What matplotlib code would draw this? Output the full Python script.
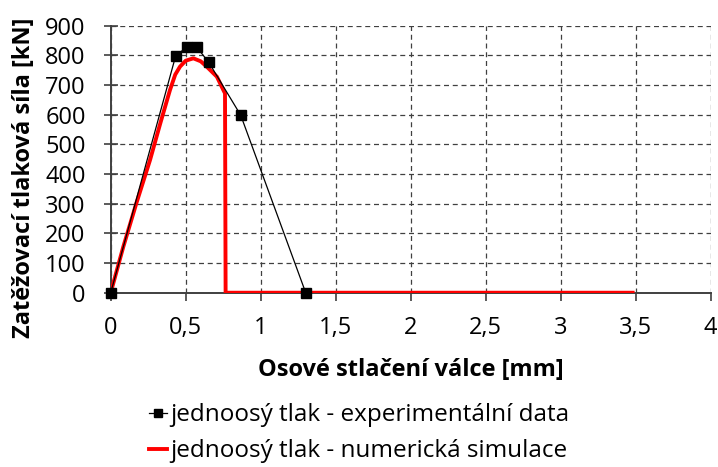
import matplotlib
matplotlib.use("Agg")
import matplotlib.pyplot as plt

plt.rcParams['font.family'] = ['Open Sans', 'DejaVu Sans']

# experimental points (jednoosý tlak - experimentální data)
exp_x = [0.0, 0.433, 0.507, 0.573, 0.653, 0.867, 1.30]
exp_y = [0, 798, 828, 828, 777, 598, 0]

# numerical simulation trace
sim_x = [0.0, 0.084, 0.17, 0.262, 0.33, 0.395, 0.43, 0.462, 0.50, 0.551,
         0.60, 0.64, 0.708, 0.751, 0.762, 0.766, 1.5, 2.5, 3.48]
sim_y = [0, 155, 300, 447, 570, 683, 735, 762, 782, 790,
         780, 762, 728, 683, 672, 0, 0, 0, 0]

x_ticks = [0, 0.5, 1, 1.5, 2, 2.5, 3, 3.5, 4]
x_tick_labels = ["0", "0,5", "1", "1,5", "2", "2,5", "3", "3,5", "4"]
y_ticks = [0, 100, 200, 300, 400, 500, 600, 700, 800, 900]

fig = plt.figure(figsize=(7.18, 4.67), dpi=100)
ax = fig.add_axes([0.1542, 0.3732, 0.8356, 0.5718])

ax.plot(sim_x, sim_y, color="#ff0000", lw=2.8, label="jednoosý tlak - numerická simulace", zorder=3)
ax.plot(exp_x, exp_y, color="black", lw=0.9, marker="s", ms=7.5,
        label="jednoosý tlak - experimentální data", zorder=4, clip_on=False)

ax.set_xlim(0, 4)
ax.set_ylim(0, 900)
ax.set_xticks(x_ticks)
ax.set_xticklabels(x_tick_labels)
ax.set_yticks(y_ticks)

ax.grid(True, ls=(0, (4, 3)), color="#404040", lw=0.9)
ax.set_axisbelow(True)
for s in ["top", "right"]:
    ax.spines[s].set_visible(False)
for s in ["left", "bottom"]:
    ax.spines[s].set_color("#404040")
    ax.spines[s].set_linewidth(1.4)

ax.tick_params(axis="x", direction="out", length=6, width=1.2, color="#404040",
               labelsize=17, pad=11)
ax.tick_params(axis="y", direction="inout", length=10, width=1.2, color="#404040",
               labelsize=17, pad=13)

ax.set_xlabel("Osové stlačení válce [mm]", fontsize=17, fontweight="bold", labelpad=13)
ax.set_ylabel("Zatěžovací tlaková síla [kN]", fontsize=17, fontweight="bold")
ax.yaxis.set_label_coords(-0.125, 0.43)

handles, labels = ax.get_legend_handles_labels()
fig.legend(handles[::-1], labels[::-1], loc="center", bbox_to_anchor=(0.5, 0.072),
           frameon=False, fontsize=17.5, handlelength=0.75, handletextpad=0.12,
           markerscale=0.75, labelspacing=0.5, borderpad=0)

fig.savefig("out.png", dpi=100)
